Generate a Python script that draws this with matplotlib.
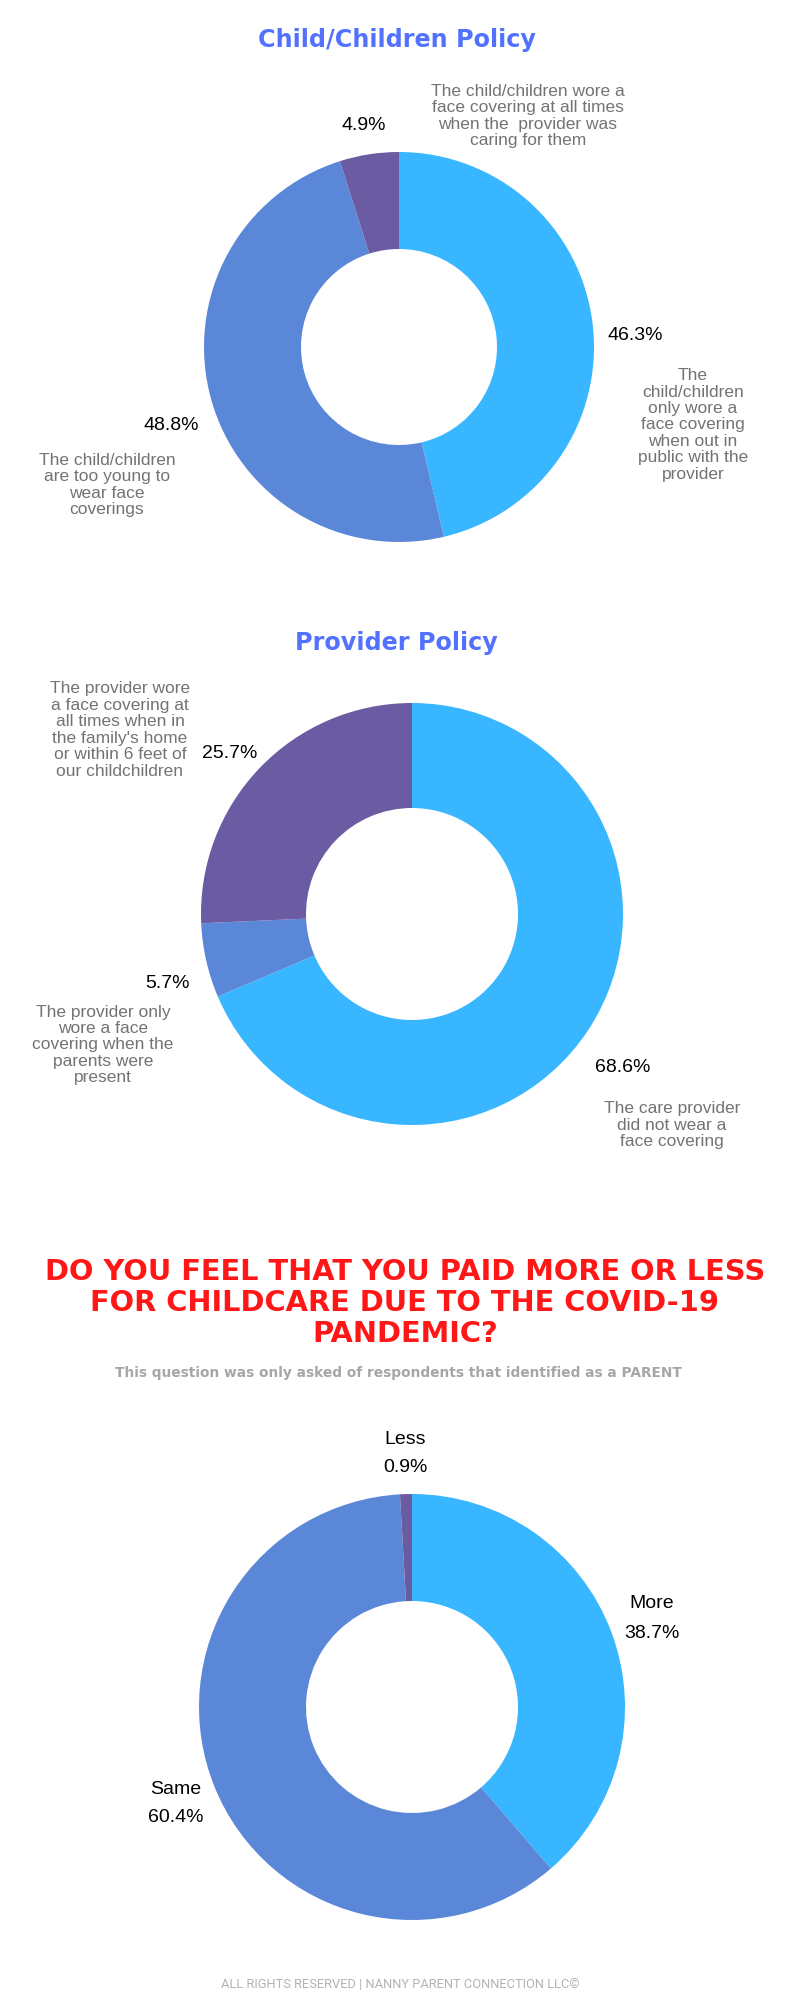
import matplotlib.pyplot as plt

# colours used by all three donuts
light_blue = '#38B6FF'
mid_blue = '#5B87D8'
purple = '#6A5BA3'

# chart 1 - child/children policy
child_values = [46.3, 48.8, 4.9]
child_pct = ['46.3%', '48.8%', '4.9%']
child_labels = [
    'The\nchild/children\nonly wore a\nface covering\nwhen out in\npublic with the\nprovider',
    'The child/children\nare too young to\nwear face\ncoverings',
    'The child/children wore a\nface covering at all times\nwhen the  provider was\ncaring for them',
]

# chart 2 - provider policy
provider_values = [68.6, 5.7, 25.7]
provider_pct = ['68.6%', '5.7%', '25.7%']
provider_labels = [
    'The care provider\ndid not wear a\nface covering',
    'The provider only\nwore a face\ncovering when the\nparents were\npresent',
    "The provider wore\na face covering at\nall times when in\nthe family's home\nor within 6 feet of\nour childchildren",
]

# chart 3 - paid more or less
paid_values = [38.7, 60.4, 0.9]
paid_labels = ['More', 'Same', 'Less']
paid_pct = ['38.7%', '60.4%', '0.9%']

W, H = 800, 2000
fig = plt.figure(figsize=(8, 20), dpi=100)
fig.patch.set_facecolor('white')


def fx(x):
    return x / W


def fy(y):
    return 1 - y / H


def donut(cx, cy, R, r, values):
    ax = fig.add_axes([(cx - R) / W, 1 - (cy + R) / H, 2 * R / W, 2 * R / H])
    ax.pie(values, colors=[light_blue, mid_blue, purple], startangle=90,
           counterclock=False, radius=1, wedgeprops=dict(width=1 - r / R, linewidth=0))
    ax.set_xlim(-1, 1)
    ax.set_ylim(-1, 1)
    ax.axis('off')
    return ax


def pct(x, y, s):
    fig.text(fx(x), fy(y), s, ha='center', va='center', fontsize=14,
             family='Liberation Sans', color='black')


def note(x, y, s):
    fig.text(fx(x), fy(y), s, ha='center', va='center', fontsize=12.5,
             family='Liberation Sans', color='#737373', linespacing=1.12,
             multialignment='center')


# ---- chart 1
fig.text(fx(397), fy(40), 'Child/Children Policy', ha='center', va='center',
         fontsize=17.2, fontweight='bold', family='DejaVu Sans', color='#5271FF')
donut(399, 347, 195, 98, child_values)
pct(635, 335, child_pct[0])
note(693, 425, child_labels[0])
pct(171, 425, child_pct[1])
note(107, 485, child_labels[1])
pct(364, 126, child_pct[2])
note(528, 116, child_labels[2])

# ---- chart 2
fig.text(fx(396), fy(643), 'Provider Policy', ha='center', va='center',
         fontsize=17.2, fontweight='bold', family='DejaVu Sans', color='#5271FF')
donut(412, 914, 211, 106, provider_values)
pct(623, 1067, provider_pct[0])
note(672, 1125, provider_labels[0])
pct(167, 984, provider_pct[1])
note(103, 1045, provider_labels[1])
pct(230, 753, provider_pct[2])
note(120, 730, provider_labels[2])

# ---- chart 3
fig.text(fx(405), fy(1303),
         'DO YOU FEEL THAT YOU PAID MORE OR LESS\nFOR CHILDCARE DUE TO THE COVID-19\nPANDEMIC?',
         ha='center', va='center', fontsize=20.8, fontweight='bold', family='DejaVu Sans',
         color='#FF1616', linespacing=1.15)
fig.text(fx(398), fy(1373), 'This question was only asked of respondents that identified as a PARENT',
         ha='center', va='center', fontsize=9.9, fontweight='bold', family='DejaVu Sans',
         color='#A6A6A6')
donut(412, 1707, 213, 106, paid_values)
pct(652, 1604, paid_labels[0])
pct(652, 1633, paid_pct[0])
pct(176, 1790, paid_labels[1])
pct(176, 1817, paid_pct[1])
pct(405, 1439, paid_labels[2])
pct(405, 1467, paid_pct[2])

fig.text(fx(400), fy(1985), 'ALL RIGHTS RESERVED | NANNY PARENT CONNECTION LLC\u00a9',
         ha='center', va='center', fontsize=9.3, family='Roboto', color='#B3B3B3')

fig.savefig('out.png', dpi=100, facecolor='white')
